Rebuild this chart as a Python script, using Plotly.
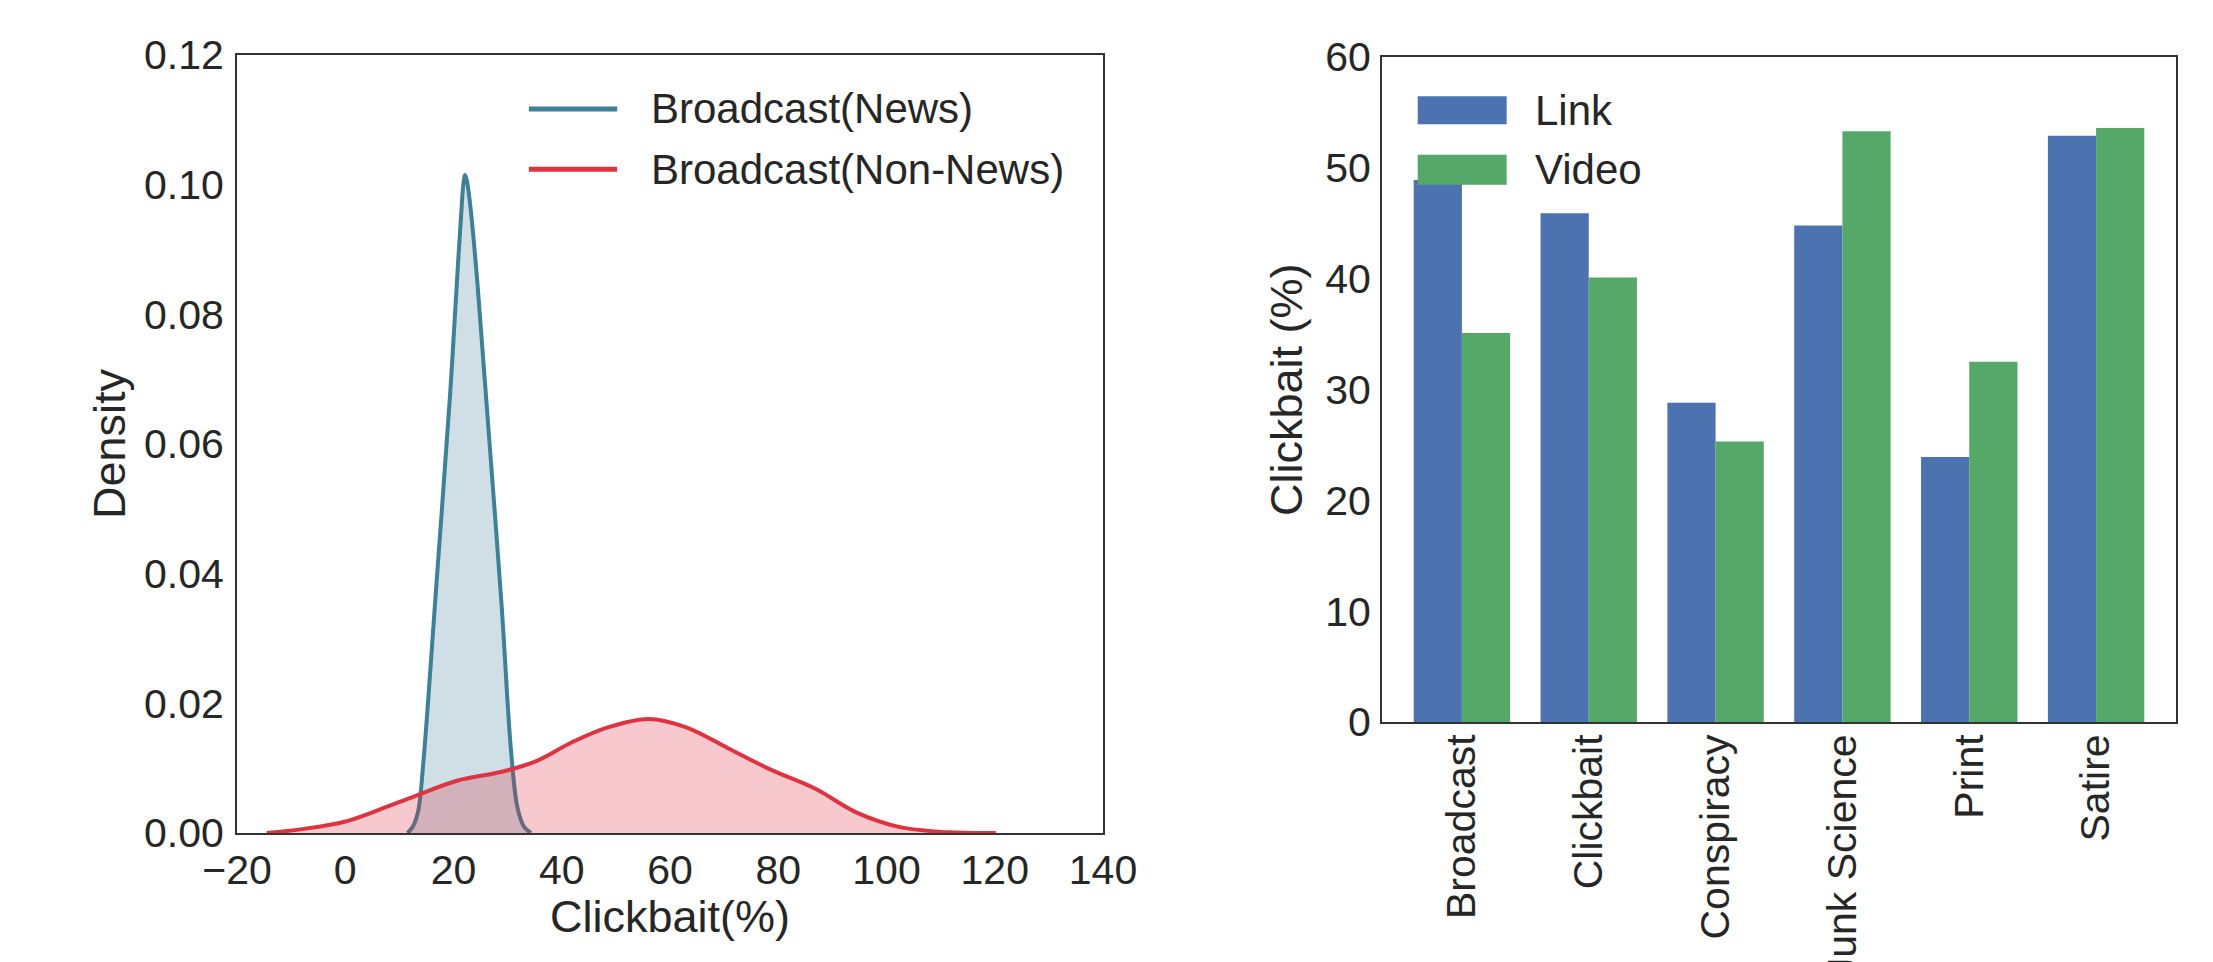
import plotly.graph_objects as go

# ---------------- data ----------------
# KDE of clickbait %
news_x = [11.5, 12.5, 13.5, 14.4, 16.9, 19.35, 20.9, 21.5, 21.85, 22.15, 22.5, 23.2, 24.4, 26.4, 28.9, 30.6, 31.8, 33.0, 34.3]
news_y = [0.0, 0.001, 0.0035, 0.0106, 0.039, 0.0674, 0.0887, 0.0965, 0.1003, 0.1015, 0.1005, 0.096, 0.085, 0.063, 0.035, 0.013, 0.004, 0.001, 0.0]

nonnews_x = [-14.5, -8.0, -0.3, 6.3, 12.9, 20.8, 28.7, 35.3, 41.9, 48.5, 56.1, 63.0, 70.9, 78.8, 86.7, 94.6, 102.5, 111.7, 120.2]
nonnews_y = [0.0, 0.0006, 0.0017, 0.0036, 0.0057, 0.0081, 0.0094, 0.0111, 0.0140, 0.0163, 0.0176, 0.0163, 0.0130, 0.0097, 0.0069, 0.0031, 0.0009, 0.0001, 0.0]

# Bar chart
categories = ["Broadcast", "Clickbait", "Conspiracy", "Junk Science", "Print", "Satire"]
link_vals = [48.9, 45.9, 28.8, 44.8, 23.9, 52.9]
video_vals = [35.1, 40.1, 25.3, 53.3, 32.5, 53.6]

left_xticks = [-20, 0, 20, 40, 60, 80, 100, 120, 140]
left_yticks = [0.00, 0.02, 0.04, 0.06, 0.08, 0.10, 0.12]
right_yticks = [0, 10, 20, 30, 40, 50, 60]

# ---------------- styling ----------------
FONT = "Liberation Sans, Arial, sans-serif"
TXT = "#262626"
BLUE_LINE = "rgb(62,128,150)"
BLUE_FILL = "rgba(62,128,150,0.25)"
RED_LINE = "rgb(222,52,66)"
RED_FILL = "rgba(222,40,60,0.25)"
LINK_C = "#4C72B0"
VIDEO_C = "#55A868"

fig = go.Figure()

fig.add_trace(go.Scatter(x=news_x, y=news_y, mode="lines", line=dict(color=BLUE_LINE, width=4, shape="spline", smoothing=1.0),
                         fill="tozeroy", fillcolor=BLUE_FILL, name="Broadcast(News)", xaxis="x", yaxis="y", showlegend=False))
fig.add_trace(go.Scatter(x=nonnews_x, y=nonnews_y, mode="lines", line=dict(color=RED_LINE, width=4, shape="spline", smoothing=1.0),
                         fill="tozeroy", fillcolor=RED_FILL, name="Broadcast(Non-News)", xaxis="x", yaxis="y", showlegend=False))

fig.add_trace(go.Bar(x=categories, y=link_vals, name="Link", marker=dict(color=LINK_C, line=dict(width=0)),
                     xaxis="x2", yaxis="y2", showlegend=False))
fig.add_trace(go.Bar(x=categories, y=video_vals, name="Video", marker=dict(color=VIDEO_C, line=dict(width=0)),
                     xaxis="x2", yaxis="y2", showlegend=False))

W, H = 2213, 962
axis_common = dict(showline=True, mirror=True, linecolor="#333333", linewidth=2, showgrid=False, zeroline=False,
                   ticks="", automargin=False, tickfont=dict(family=FONT, size=41, color=TXT))

fig.update_layout(
    width=W, height=H, autosize=False,
    margin=dict(l=0, r=0, t=0, b=0),
    paper_bgcolor="white", plot_bgcolor="white",
    barmode="group", bargap=0.24, bargroupgap=0.0,
    xaxis=dict(domain=[237 / W, 1103 / W], range=[-20, 140], tickvals=left_xticks, anchor="y",
               ticklabelstandoff=0, **axis_common),
    yaxis=dict(domain=[1 - 833 / H, 1 - 55 / H], range=[0, 0.12], tickvals=left_yticks, tickformat=".2f", anchor="x",
               ticklabelstandoff=3, **axis_common),
    xaxis2=dict(domain=[1382 / W, 2176 / W], range=[-0.63, 5.63], type="category", tickangle=-90, anchor="y2",
                ticklabelstandoff=-6, **axis_common),
    yaxis2=dict(domain=[1 - 722 / H, 1 - 57 / H], range=[0, 60], tickvals=right_yticks, anchor="x2",
                ticklabelstandoff=1, **axis_common),
)

ann = []
ann.append(dict(text="Clickbait(%)", xref="paper", yref="paper", x=670 / W, y=1 - 916 / H, xanchor="center", yanchor="middle",
                showarrow=False, font=dict(family=FONT, size=45, color=TXT)))
ann.append(dict(text="Density", xref="paper", yref="paper", x=109 / W, y=1 - 444 / H, xanchor="center", yanchor="middle",
                textangle=-90, showarrow=False, font=dict(family=FONT, size=45, color=TXT)))
ann.append(dict(text="Clickbait (%)", xref="paper", yref="paper", x=1286 / W, y=1 - 390 / H, xanchor="center", yanchor="middle",
                textangle=-90, showarrow=False, font=dict(family=FONT, size=45, color=TXT)))

# ---- left legend (lines) ----
shapes = []
leg_left = [("Broadcast(News)", BLUE_LINE, 0.9306), ("Broadcast(Non-News)", RED_LINE, 0.853)]
for label, col, yy in leg_left:
    shapes.append(dict(type="line", xref="x domain", yref="y domain", x0=0.337, x1=0.439, y0=yy, y1=yy,
                       line=dict(color=col, width=5), layer="above"))
    ann.append(dict(text=label, xref="x domain", yref="y domain", x=0.476, y=yy, xanchor="left", yanchor="middle",
                    showarrow=False, font=dict(family=FONT, size=42, color=TXT)))

# ---- right legend (patches) ----
leg_right = [("Link", LINK_C, 0.941, 0.899), ("Video", VIDEO_C, 0.853, 0.808)]
for label, col, y1, y0 in leg_right:
    shapes.append(dict(type="rect", xref="x2 domain", yref="y2 domain", x0=0.045, x1=0.157, y0=y0, y1=y1,
                       fillcolor=col, line=dict(width=0), layer="above"))
    ann.append(dict(text=label, xref="x2 domain", yref="y2 domain", x=0.19, y=(y0 + y1) / 2, xanchor="left", yanchor="middle",
                    showarrow=False, font=dict(family=FONT, size=42, color=TXT)))

fig.update_layout(annotations=ann, shapes=shapes)

fig.write_html("out.html")
